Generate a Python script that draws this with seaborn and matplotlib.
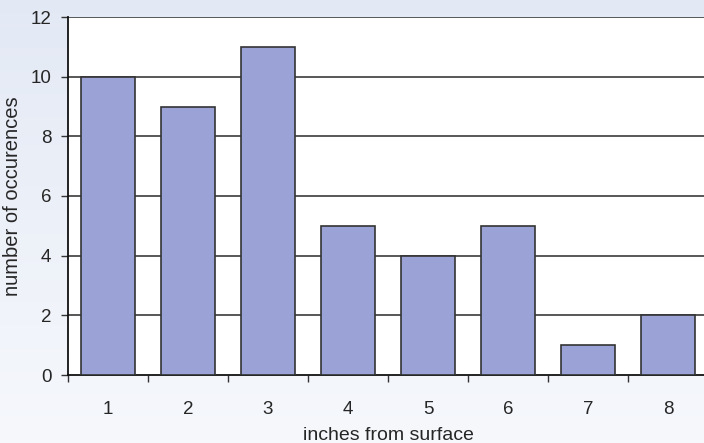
import numpy as np
import pandas as pd
import matplotlib.pyplot as plt
import seaborn as sns

# Data
depth = ['1', '2', '3', '4', '5', '6', '7', '8']
occurences = [10, 9, 11, 5, 4, 5, 1, 2]

df = pd.DataFrame({'depth': depth, 'count': occurences})

sns.set_style('white')
plt.rcParams['font.family'] = ['Liberation Sans', 'DejaVu Sans']

fig = plt.figure(figsize=(7.04, 4.43), dpi=100)

# light blue gradient background
bg = fig.add_axes([0, 0, 1, 1], zorder=-10)
grad = np.linspace(0, 1, 256).reshape(-1, 1)
top_c = np.array([0.89, 0.914, 0.96])
bot_c = np.array([0.965, 0.973, 0.988])
img = top_c + (bot_c - top_c) * grad[..., None]
bg.imshow(img.reshape(256, 1, 3), aspect='auto', extent=[0, 1, 0, 1])
bg.axis('off')

ax = fig.add_axes([68 / 704, 1 - 375 / 443, 640 / 704, 358 / 443])
ax.set_facecolor('white')
sns.barplot(data=df, x='depth', y='count', color='#9ba3d6', saturation=1,
            width=0.67, edgecolor='#333333', linewidth=1.2, errorbar=None, ax=ax, zorder=3)

ax.set_xlim(-0.5, 7.5)
ax.set_ylim(0, 12)
ax.set_yticks(range(0, 13, 2))
for y in range(2, 13, 2):
    ax.axhline(y, color='#2a2a2a', lw=1.1, zorder=1)

# x ticks between categories, labels at centres
ax.set_xticks(np.arange(-0.5, 8, 1), minor=True)
ax.tick_params(axis='x', which='major', length=0, pad=19, labelsize=13.5)
ax.tick_params(axis='x', which='minor', length=5, width=1, color='#333333', direction='out', bottom=True)
ax.tick_params(axis='y', length=5, width=1, color='#333333', direction='out', left=True, labelsize=13.5, pad=7)

for s in ['top', 'right']:
    ax.spines[s].set_visible(False)
for s in ['left', 'bottom']:
    ax.spines[s].set_color('#111111')
    ax.spines[s].set_linewidth(1.3)

ax.set_xlabel('inches from surface', fontsize=14, labelpad=6)
ax.set_ylabel('number of occurences', fontsize=14.5, labelpad=6)

plt.savefig('out.png', dpi=100)
